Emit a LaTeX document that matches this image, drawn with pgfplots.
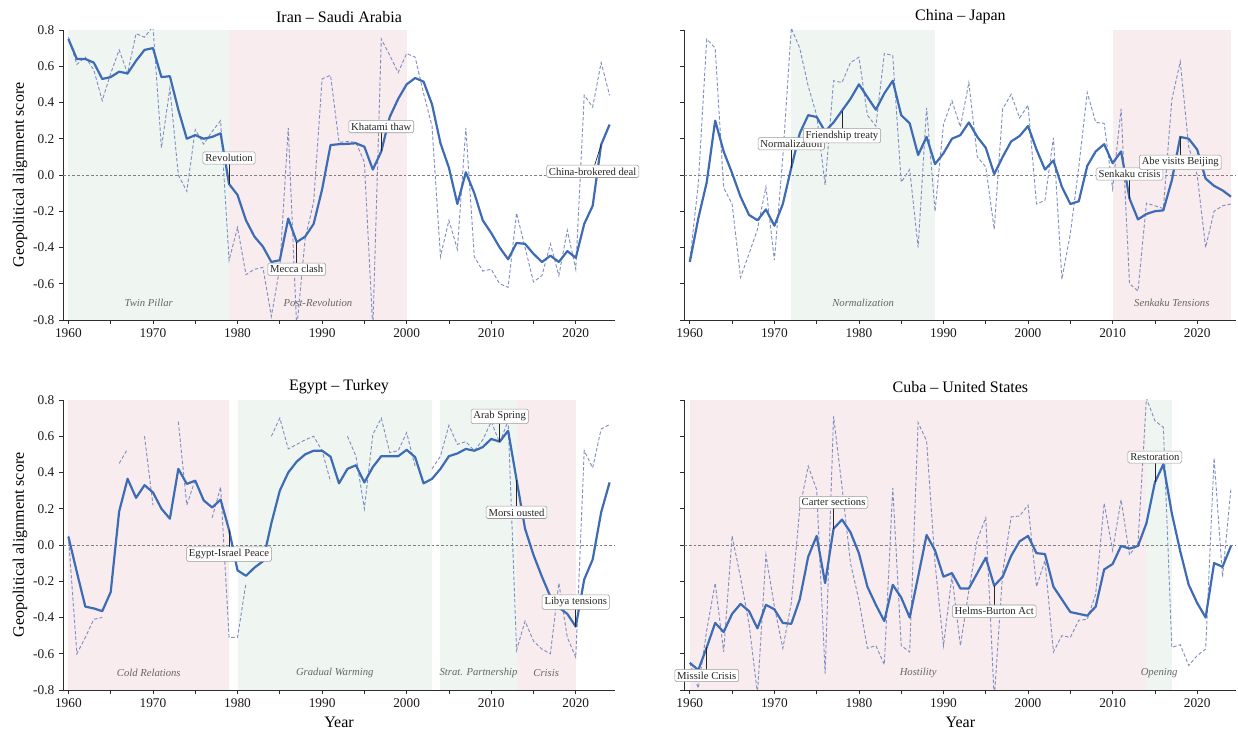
\documentclass[border=0pt]{standalone}
\usepackage{fontspec}
\setmainfont{Liberation Serif}
\usepackage{pgfplots}
\usepackage{pgfplotstable}
\pgfplotsset{compat=1.18}

\definecolor{solidblue}{RGB}{61,107,180}
\definecolor{dashblue}{RGB}{128,143,196}
\definecolor{regG}{RGB}{239,246,241}
\definecolor{regP}{RGB}{248,236,238}
\definecolor{spine}{RGB}{45,45,45}

\pgfplotstableread{
year solid dashed
1960 0.75 0.76
1961 0.64 0.61
1962 0.64 0.65
1963 0.62 0.58
1964 0.53 0.41
1965 0.54 0.56
1966 0.57 0.69
1967 0.56 0.56
1968 0.63 0.78
1969 0.69 0.76
1970 0.70 0.82
1971 0.54 0.15
1972 0.545 0.48
1973 0.36 0.00
1974 0.20 -0.09
1975 0.22 0.25
1976 0.20 0.17
1977 0.21 0.24
1978 0.23 0.30
1979 -0.05 -0.47
1980 -0.11 -0.29
1981 -0.25 -0.55
1982 -0.34 -0.52
1983 -0.395 -0.51
1984 -0.48 -0.78
1985 -0.47 -0.51
1986 -0.24 0.26
1987 -0.37 -0.85
1988 -0.34 -0.35
1989 -0.27 -0.15
1990 -0.08 0.53
1991 0.165 0.55
1992 0.17 0.18
1993 0.172 0.185
1994 0.175 0.18
1995 0.156 0.07
1996 0.03 -0.85
1997 0.13 0.75
1998 0.32 0.66
1999 0.42 0.565
2000 0.50 0.67
2001 0.535 0.65
2002 0.515 0.45
2003 0.39 0.27
2004 0.175 -0.45
2005 0.04 -0.25
2006 -0.16 -0.41
2007 0.015 0.26
2008 -0.10 -0.45
2009 -0.25 -0.53
2010 -0.32 -0.52
2011 -0.40 -0.60
2012 -0.465 -0.62
2013 -0.375 -0.21
2014 -0.38 -0.40
2015 -0.435 -0.59
2016 -0.48 -0.555
2017 -0.445 -0.38
2018 -0.48 -0.555
2019 -0.42 -0.305
2020 -0.457 -0.52
2021 -0.27 0.44
2022 -0.17 0.375
2023 0.167 0.62
2024 0.278 0.44
}\iransa

\pgfplotstableread{
year solid dashed
1960 -0.48 -0.47
1961 -0.24 -0.05
1962 -0.04 0.75
1963 0.30 0.70
1964 0.13 -0.07
1965 0.01 -0.16
1966 -0.12 -0.565
1967 -0.22 -0.435
1968 -0.25 -0.30
1969 -0.19 -0.065
1970 -0.28 -0.47
1971 -0.16 0.10
1972 0.04 0.81
1973 0.23 0.70
1974 0.33 0.49
1975 0.32 0.33
1976 0.24 -0.055
1977 0.29 0.52
1978 0.355 0.51
1979 0.42 0.62
1980 0.50 0.65
1981 0.43 0.33
1982 0.36 0.27
1983 0.45 0.67
1984 0.52 0.66
1985 0.33 -0.04
1986 0.285 0.03
1987 0.11 -0.40
1988 0.21 0.37
1989 0.06 -0.20
1990 0.12 0.28
1991 0.20 0.41
1992 0.22 0.265
1993 0.29 0.51
1994 0.21 0.10
1995 0.15 0.045
1996 0.005 -0.30
1997 0.10 0.365
1998 0.185 0.445
1999 0.215 0.315
2000 0.27 0.385
2001 0.14 -0.16
2002 0.03 -0.14
2003 0.08 0.205
2004 -0.065 -0.575
2005 -0.16 -0.325
2006 -0.145 0.045
2007 0.05 0.455
2008 0.13 0.29
2009 0.17 0.285
2010 0.065 -0.075
2011 0.13 0.365
2012 -0.13 -0.60
2013 -0.245 -0.64
2014 -0.215 -0.155
2015 -0.20 -0.17
2016 -0.195 -0.185
2017 -0.03 0.415
2018 0.21 0.625
2019 0.20 0.155
2020 0.14 0.0
2021 -0.02 -0.40
2022 -0.06 -0.20
2023 -0.085 -0.17
2024 -0.12 -0.16
}\chinajp

\pgfplotstableread{
year solid dashed
1960 0.046 0.05
1961 -0.15 -0.60
1962 -0.34 -0.51
1963 -0.35 -0.41
1964 -0.365 -0.40
1965 -0.26 nan
1966 0.185 0.45
1967 0.365 0.53
1968 0.26 nan
1969 0.33 0.60
1970 0.29 0.22
1971 0.20 nan
1972 0.145 nan
1973 0.42 0.68
1974 0.337 0.22
1975 0.355 0.36
1976 0.246 nan
1977 0.207 0.15
1978 0.25 0.32
1979 0.083 -0.51
1980 -0.14 -0.51
1981 -0.17 -0.21
1982 -0.125 nan
1983 -0.09 nan
1984 0.12 0.60
1985 0.30 0.70
1986 0.40 0.53
1987 0.46 0.555
1988 0.50 0.58
1989 0.52 0.60
1990 0.52 0.52
1991 0.487 0.35
1992 0.34 nan
1993 0.42 0.60
1994 0.44 0.49
1995 0.345 0.20
1996 0.43 0.61
1997 0.49 0.70
1998 0.49 0.51
1999 0.49 0.52
2000 0.525 0.62
2001 0.485 0.435
2002 0.34 nan
2003 0.365 0.42
2004 0.42 0.49
2005 0.49 0.66
2006 0.505 0.555
2007 0.53 0.57
2008 0.52 0.52
2009 0.54 0.58
2010 0.585 0.68
2011 0.57 0.565
2012 0.63 0.685
2013 0.36 -0.58
2014 0.09 -0.42
2015 -0.055 -0.53
2016 -0.175 -0.575
2017 -0.285 -0.60
2018 -0.345 -0.21
2019 -0.38 -0.51
2020 -0.45 -0.62
2021 -0.19 0.52
2022 -0.08 0.425
2023 0.18 0.64
2024 0.345 0.665
}\egypttr

\pgfplotstableread{
year solid dashed
1960 -0.65 -0.65
1961 -0.69 -0.79
1962 -0.565 -0.47
1963 -0.43 -0.21
1964 -0.48 -0.59
1965 -0.38 0.05
1966 -0.325 -0.18
1967 -0.365 -0.435
1968 -0.46 -0.82
1969 -0.33 -0.055
1970 -0.355 -0.34
1971 -0.43 -0.57
1972 -0.435 -0.32
1973 -0.30 0.20
1974 -0.065 0.435
1975 0.05 0.305
1976 -0.21 -0.71
1977 0.09 0.71
1978 0.14 0.32
1979 0.07 -0.10
1980 -0.046 -0.305
1981 -0.23 -0.57
1982 -0.33 -0.555
1983 -0.42 -0.66
1984 -0.22 0.315
1985 -0.29 -0.555
1986 -0.40 -0.59
1987 -0.175 0.675
1988 0.055 0.575
1989 -0.03 -0.10
1990 -0.175 -0.555
1991 -0.155 -0.17
1992 -0.24 -0.555
1993 -0.24 -0.25
1994 -0.155 0.03
1995 -0.07 0.15
1996 -0.225 -0.85
1997 -0.175 -0.15
1998 -0.06 0.155
1999 0.02 0.16
2000 0.05 0.22
2001 -0.045 -0.23
2002 -0.05 -0.085
2003 -0.23 -0.59
2004 -0.30 -0.50
2005 -0.37 -0.51
2006 -0.38 -0.415
2007 -0.39 -0.41
2008 -0.34 -0.27
2009 -0.135 0.23
2010 -0.105 -0.03
2011 -0.005 0.25
2012 -0.02 -0.055
2013 -0.005 0.01
2014 0.12 0.81
2015 0.345 0.685
2016 0.445 0.65
2017 0.175 -0.565
2018 -0.035 -0.55
2019 -0.22 -0.665
2020 -0.32 -0.61
2021 -0.40 -0.575
2022 -0.10 0.48
2023 -0.12 -0.175
2024 -0.005 0.315
}\cubaus

\tikzset{
  zeroline/.style={black!50, line width=0.5pt, dash pattern=on 2pt off 1.5pt},
}

\pgfplotsset{
  panel/.style={
    scale only axis, width=414pt, height=217.5pt,
    xmin=1959.36, xmax=2024.64, ymin=-0.8, ymax=0.8,
    axis x line*=bottom, axis y line*=left,
    axis line style={spine, line width=0.6pt},
    tick align=outside,
    tick style={spine, line width=0.6pt},
    major tick length=3pt,
    xtick={1960,1965,...,2020},
    xticklabels={1960,,1970,,1980,,1990,,2000,,2010,,2020},
    ytick={-0.8,-0.6,-0.4,-0.2,0,0.2,0.4,0.6,0.8},
    yticklabel style={/pgf/number format/.cd, fixed, fixed zerofill, precision=1},
    /pgf/number format/assume math mode=true,
    tick label style={font=\fontsize{10}{12}\selectfont, text=black!90},
    title style={font=\fontsize{12}{14}\selectfont, at={(axis description cs:0.5,1.045)}, anchor=center, yshift=-6pt},
    label style={font=\fontsize{12}{14}\selectfont},
    clip mode=individual,
    unbounded coords=jump,
  },
  leftpanel/.style={
    ylabel={Geopolitical alignment score},
    ylabel style={at={(axis description cs:-0.078,0.5)}, anchor=center},
  },
  rightpanel/.style={yticklabels={}},
  bottompanel/.style={
    xlabel={Year},
    xlabel style={at={(axis description cs:0.5,-0.11)}, anchor=center},
  },
  solidline/.style={solidblue, line width=1.65pt, line join=round},
  dashline/.style={dashblue, line width=0.7pt, dash pattern=on 2.6pt off 1.6pt},
}

\newcommand{\region}[3]{\fill[#3] (axis cs:#1,-0.8) rectangle (axis cs:#2,0.8);}
\newcommand{\reglabel}[2]{\node[font=\fontsize{8}{9}\selectfont\itshape, text=black!60] at (axis cs:#1,-0.705) {#2};}
\newcommand{\zeroln}{\draw[zeroline] (axis cs:1959.36,0) -- (axis cs:2024.64,0);}
\newcommand{\annot}[5]{%
  \draw[black!85, line width=0.5pt] (axis cs:#1,#2) -- (axis cs:#3,#4);
  \node[draw=black!40, fill=white, rounded corners=1.2pt, inner sep=1.8pt, font=\fontsize{8}{9}\selectfont, text=black!85] at (axis cs:#3,#4) {#5};}

\begin{document}
\begin{tikzpicture}
\useasboundingbox (0,0) rectangle (928.5pt,547.5pt);

% Iran - Saudi Arabia
\begin{axis}[panel, leftpanel, at={(47.25pt,307.5pt)}, anchor=south west, title={Iran – Saudi Arabia}]
\region{1960}{1979}{regG}
\region{1979}{2000}{regP}
\zeroln
\addplot[dashline] table[x=year,y=dashed] {\iransa};
\addplot[solidline] table[x=year,y=solid] {\iransa};
\reglabel{1969.5}{Twin Pillar}
\reglabel{1989.5}{Post-Revolution}
\annot{1979}{-0.05}{1979}{0.094}{Revolution}
\annot{1987}{-0.37}{1987}{-0.52}{Mecca clash}
\annot{1997}{0.13}{1997}{0.267}{Khatami thaw}
\annot{2023}{0.167}{2022}{0.02}{China-brokered deal}
\end{axis}

% China - Japan
\begin{axis}[panel, rightpanel, at={(513.3pt,307.5pt)}, anchor=south west, title={China – Japan}]
\region{1972}{1989}{regG}
\region{2010}{2024}{regP}
\zeroln
\addplot[dashline] table[x=year,y=dashed] {\chinajp};
\addplot[solidline] table[x=year,y=solid] {\chinajp};
\reglabel{1980.5}{Normalization}
\reglabel{2017}{Senkaku Tensions}
\annot{1972}{0.04}{1972}{0.172}{Normalization}
\annot{1978}{0.355}{1978}{0.217}{Friendship treaty}
\annot{2012}{-0.13}{2012}{0.005}{Senkaku crisis}
\annot{2018}{0.21}{2018}{0.07}{Abe visits Beijing}
\end{axis}

% Egypt - Turkey
\begin{axis}[panel, leftpanel, bottompanel, at={(47.25pt,30pt)}, anchor=south west, title={Egypt – Turkey}]
\region{1960}{1979}{regP}
\region{1980}{2003}{regG}
\region{2004}{2013}{regG}
\region{2013}{2020}{regP}
\zeroln
\addplot[dashline] table[x=year,y=dashed] {\egypttr};
\addplot[solidline] table[x=year,y=solid] {\egypttr};
\reglabel{1969.5}{Cold Relations}
\reglabel{1991.5}{Gradual Warming}
\reglabel{2008.5}{Strat. Partnership}
\reglabel{2016.5}{Crisis}
\annot{1979}{0.083}{1979}{-0.05}{Egypt-Israel Peace}
\annot{2011}{0.57}{2011}{0.71}{Arab Spring}
\annot{2013}{0.36}{2013}{0.18}{Morsi ousted}
\annot{2020}{-0.45}{2020}{-0.315}{Libya tensions}
\end{axis}

% Cuba - United States
\begin{axis}[panel, rightpanel, bottompanel, at={(513.3pt,30pt)}, anchor=south west, title={Cuba – United States}]
\region{1960}{2014}{regP}
\region{2014}{2017}{regG}
\zeroln
\addplot[dashline] table[x=year,y=dashed] {\cubaus};
\addplot[solidline] table[x=year,y=solid] {\cubaus};
\reglabel{1987}{Hostility}
\reglabel{2015.5}{Opening}
\annot{1962}{-0.565}{1962}{-0.72}{Missile Crisis}
\annot{1977}{0.09}{1977}{0.235}{Carter sections}
\annot{1996}{-0.225}{1996}{-0.365}{Helms-Burton Act}
\annot{2015}{0.345}{2015}{0.485}{Restoration}
\end{axis}
\end{tikzpicture}
\end{document}
